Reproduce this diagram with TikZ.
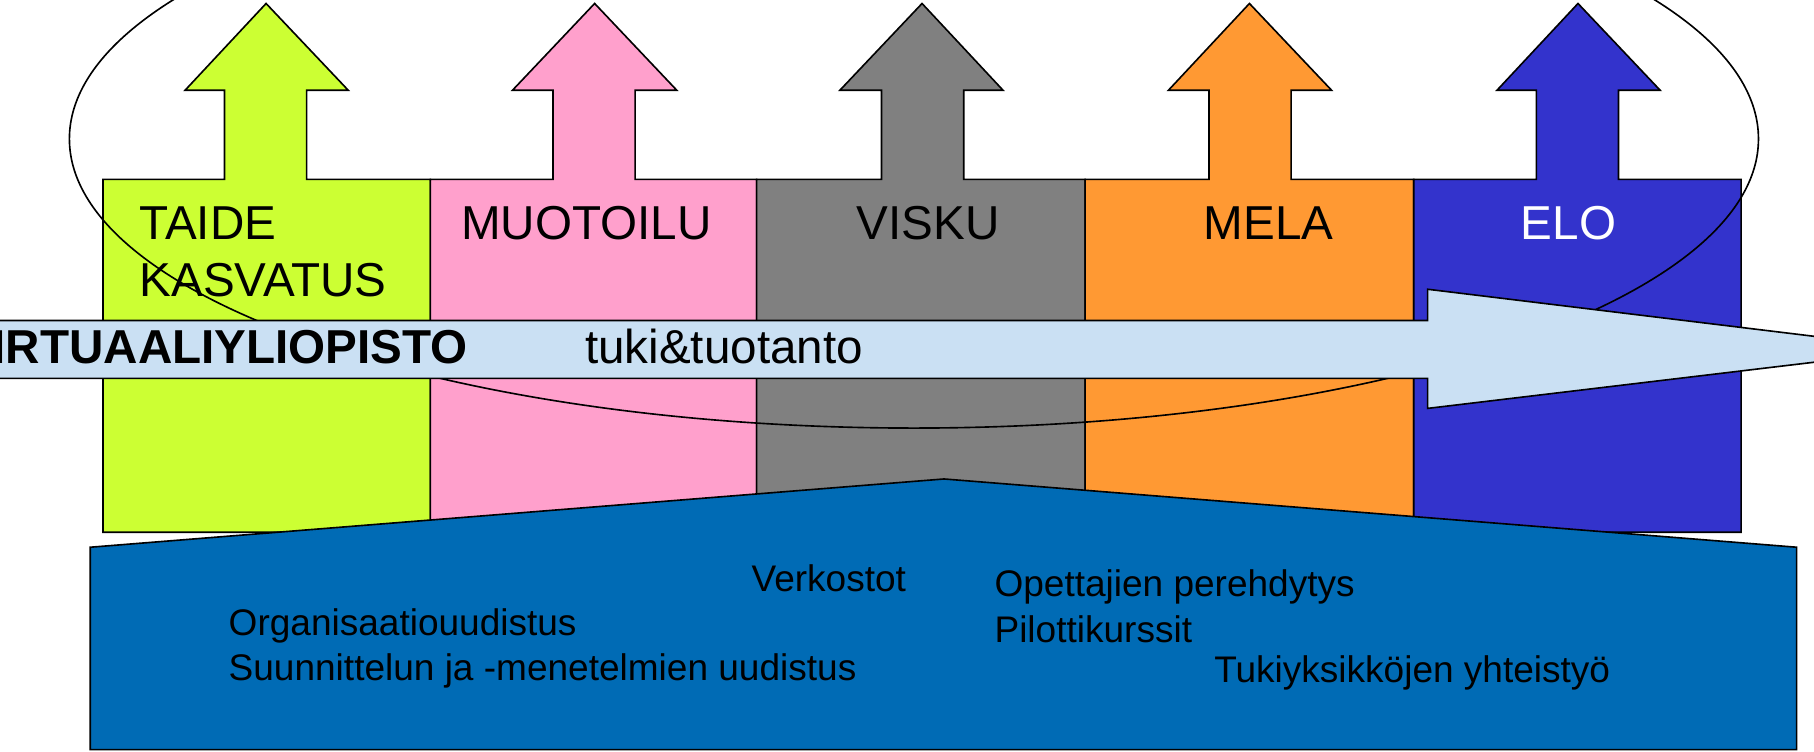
\documentclass[tikz,border=0pt]{standalone}
\usepackage{fontspec}
\setmainfont{Liberation Sans}
\usepackage{tikz}

\definecolor{taidecol}{RGB}{204,255,51}
\definecolor{muotocol}{RGB}{255,160,204}
\definecolor{viskucol}{RGB}{128,128,128}
\definecolor{melacol}{RGB}{255,153,51}
\definecolor{elocol}{RGB}{51,51,204}
\definecolor{virtucol}{RGB}{202,224,243}
\definecolor{pohjacol}{RGB}{0,107,181}

\tikzset{
	lab/.style={anchor=base west, inner sep=0pt, align=left, font=\fontsize{11.7}{13.9}\selectfont},
	sub/.style={anchor=base west, inner sep=0pt, align=left, font=\fontsize{9.1}{11.1}\selectfont},
}

\begin{document}
\begin{tikzpicture}[x=0.01cm, y=-0.01cm]
	\useasboundingbox (0,0) rectangle (1568,650);
	\clip (0,0) rectangle (1568,650);
	% columns with their arrows
	\draw[fill=taidecol] (89,460)--(89,155)--(194,155)--(194,78)--(160,78)--(230,3)--(301,78)--(265,78)--(265,155)--(372,155)--(372,460)--cycle;
	\draw[fill=muotocol] (372,460)--(372,155)--(478,155)--(478,78)--(443,78)--(514,3)--(585,78)--(549,78)--(549,155)--(654,155)--(654,460)--cycle;
	\draw[fill=viskucol] (654,460)--(654,155)--(762,155)--(762,78)--(726,78)--(797,3)--(867,78)--(833,78)--(833,155)--(938,155)--(938,460)--cycle;
	\draw[fill=melacol] (938,460)--(938,155)--(1045,155)--(1045,78)--(1010,78)--(1080,3)--(1151,78)--(1116,78)--(1116,155)--(1222,155)--(1222,460)--cycle;
	\draw[fill=elocol] (1222,460)--(1222,155)--(1328,155)--(1328,78)--(1294,78)--(1364,3)--(1435,78)--(1399,78)--(1399,155)--(1505,155)--(1505,460)--cycle;
	% base anchor of a two-line node sits on its last line
	\node[lab] (taide) at (120,256) {TAIDE\\KASVATUS};
	\node[lab] (muotoilu) at (398,207) {MUOTOILU};
	\node[lab] (visku) at (740,207) {VISKU};
	\node[lab] (mela) at (1040,207) {MELA};
	\node[lab, text=white] (elo) at (1314,207) {ELO};
	% ring
	\draw (790,120) circle [x radius=730, y radius=250];
	% virtuaaliyliopisto, tip runs off the page
	\draw[fill=virtucol] (-20,277)--(1234,277)--(1234,250)--(1661,302)--(1234,353)--(1234,327)--(-20,327)--cycle;
	\node[lab, anchor=base east, font=\fontsize{11.7}{13.9}\selectfont\bfseries] (virtu) at (405,314) {VIRTUAALIYLIOPISTO};
	\node[lab] (tuki) at (505,314) {tuki\&tuotanto};
	% base
	\draw[fill=pohjacol] (78,473)--(816,414)--(1553,473)--(1553,648)--(78,648)--cycle;
	\node[sub] (verkostot) at (649,511) {Verkostot};
	\node[sub] (organisaatio) at (197,588) {Organisaatiouudistus\\Suunnittelun ja -menetelmien uudistus};
	\node[sub] (opettajat) at (859,555) {Opettajien perehdytys\\Pilottikurssit};
	\node[sub] (tukiyks) at (1049,590) {Tukiyksikköjen yhteistyö};
\end{tikzpicture}
\end{document}
